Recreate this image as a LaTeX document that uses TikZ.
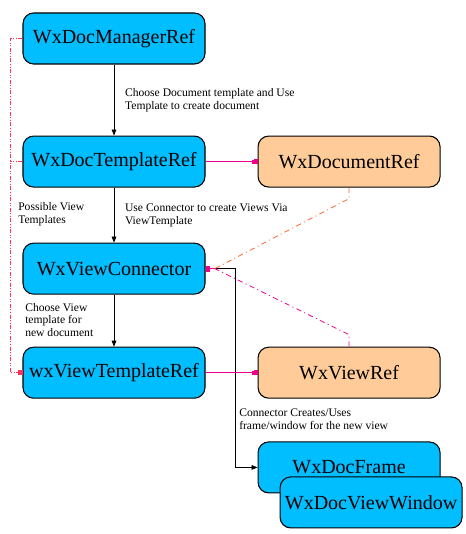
\documentclass[tikz,border=0pt]{standalone}
\usepackage{fontspec}
\setmainfont{Liberation Serif}
\usetikzlibrary{arrows.meta,positioning}

\definecolor{boxblue}{RGB}{0,190,255}
\definecolor{boxpeach}{RGB}{255,204,153}
\definecolor{linkred}{RGB}{255,50,90}
\definecolor{linkorange}{RGB}{255,102,51}

\begin{document}
\begin{tikzpicture}[
    x=0.75pt,
    y=-0.75pt,
    classbox/.style={
        rectangle,
        rounded corners=8pt,
        draw,
        line width=0.8pt,
        fill=boxblue,
        text centered,
        minimum width=136.5pt,
        minimum height=38.25pt,
        inner sep=2pt,
        font=\fontsize{15}{18}\selectfont
    },
    objbox/.style={classbox, fill=boxpeach},
    note/.style={align=left, inner sep=0pt, font=\fontsize{8.7}{9.6}\selectfont},
    arrow/.style={-{Triangle[length=4.5pt,width=3.5pt]}, line width=0.6pt},
    uselink/.style={-{Square[length=2pt,width=3pt]Square[length=2.5pt,width=3.5pt]}, magenta, line width=0.6pt},
    reflink/.style={linkred, line width=0.6pt,
        dash pattern=on 3pt off 1.2pt on 0.7pt off 1.2pt on 0.7pt off 1.2pt},
    doclink/.style={linkorange, line width=0.6pt, dash pattern=on 4pt off 2.5pt on 0.8pt off 2.5pt},
    viewlink/.style={magenta, line width=0.6pt, dash pattern=on 4pt off 2.5pt on 0.8pt off 2.5pt}
]
    \useasboundingbox (0,0) rectangle (465,534);

    % left column
    \node[classbox] (manager) at (114,38.5) {WxDocManagerRef};
    \node[classbox, below=53.25pt of manager] (doctpl) {WxDocTemplateRef};
    \node[classbox, below=41.25pt of doctpl] (connector) {WxViewConnector};
    \node[classbox, below=39pt of connector] (viewtpl) {wxViewTemplateRef};

    % right column
    \node[objbox, right=39pt of doctpl] (docref) {WxDocumentRef};
    \node[objbox, right=39pt of viewtpl] (viewref) {WxViewRef};
    \node[classbox, below=32pt of viewref] (frame) {WxDocFrame};
    \node[classbox, at={([shift={(22,35)}]frame.center)}] (window) {WxDocViewWindow};

    % notes
    \node[note, anchor=west] (possible) at (18,214) {Possible View\\Templates};
    \node[note, anchor=west] (choose) at (25,320) {Choose View\\template for\\new document};
    \node[note, anchor=west] (creates) at (239,419) {Connector Creates/Uses\\frame/window for the new view};

    % main flow
    \draw[arrow] (manager) -- node[note, right=8pt] {Choose Document template and Use\\Template to create document} (doctpl);
    \draw[arrow] (doctpl) -- node[note, right=8pt] {Use Connector to create Views Via\\ViewTemplate} (connector);
    \draw[arrow] (connector) -- (viewtpl);
    \draw[arrow] (connector.east) -- ++(30,0) |- (frame.west);

    % references
    \draw[uselink] (doctpl) -- (docref);
    \draw[uselink] (viewtpl) -- (viewref);
    \draw[reflink] (doctpl.west) -- ++(-12,0);
    \draw[reflink, -{Square[length=3pt,width=3.5pt]}] (manager.west) -- ++(-12,0) |- (viewtpl.west);
    \draw[doclink] (docref.south) -- ++(0,11) -- ([xshift=7pt]connector.east);
    \draw[viewlink] (viewref.north) -- ++(0,-12) -- ([xshift=7pt]connector.east);
    \draw[magenta, line width=0.6pt, -{Square[length=3.5pt,width=4pt]}] ([xshift=7pt]connector.east) -- (connector.east);
\end{tikzpicture}
\end{document}
